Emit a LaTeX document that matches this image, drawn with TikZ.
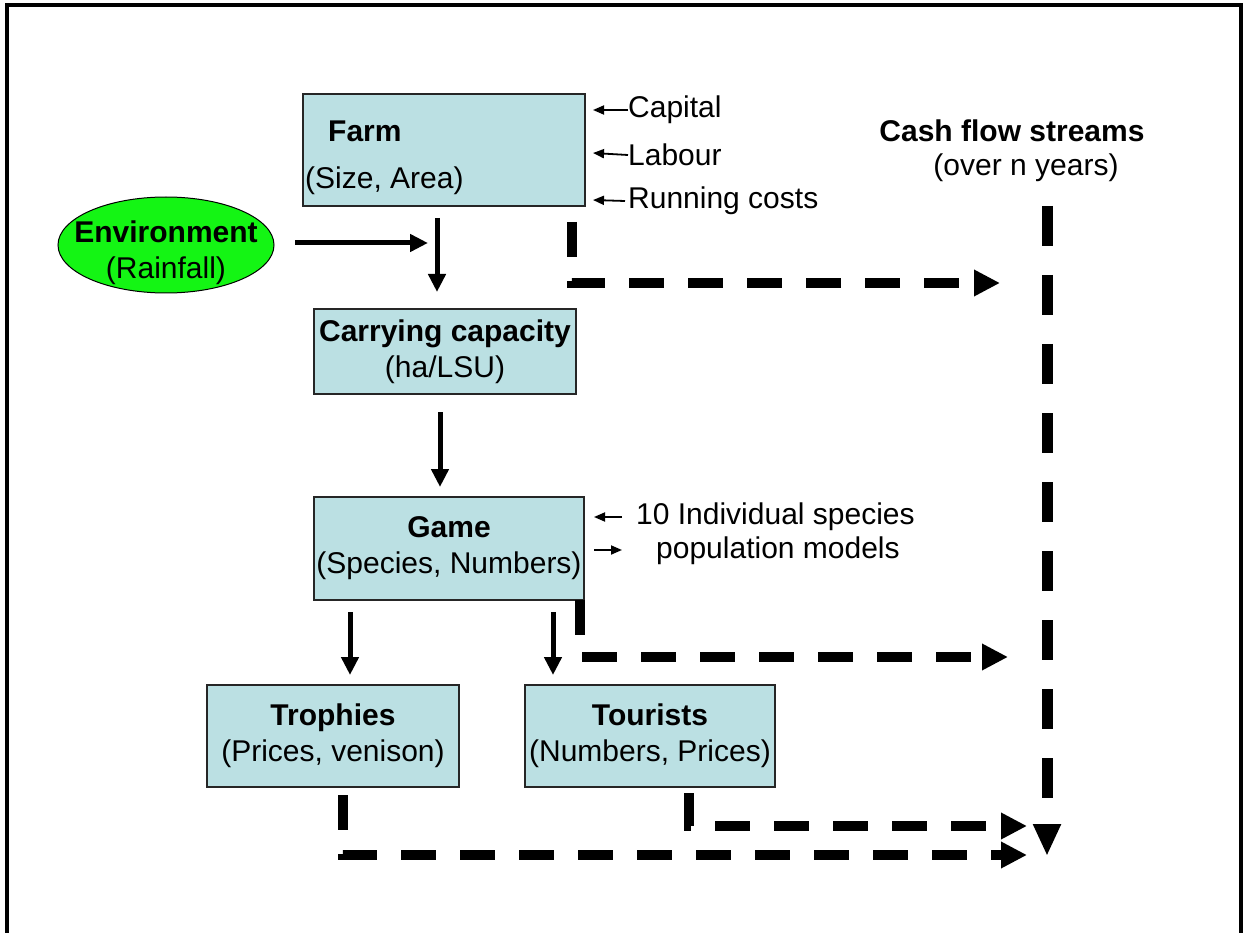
\documentclass[tikz,border=0pt]{standalone}
\usepackage{fontspec}
\setmainfont{Liberation Sans}
\usetikzlibrary{arrows.meta,shapes.geometric}
\definecolor{boxblue}{RGB}{187,224,227}
\definecolor{envgreen}{RGB}{20,245,20}
\begin{document}
\begin{tikzpicture}[x=1pt,y=-1pt,
  every node/.style={font=\fontsize{30}{36}\selectfont, inner sep=0pt},
  box/.style={draw=black!85, line width=1.5pt, fill=boxblue, align=center},
  lbl/.style={anchor=west},
  solidarr/.style={line width=5pt, -{Triangle[length=18pt,width=17pt]}},
  smallarr/.style={line width=1.8pt, -{Triangle[length=11pt,width=9pt]}},
  cashflow/.style={line width=10pt, dash pattern=on 35pt off 24pt, -{Triangle[length=26pt,width=25pt]}},
  bigflow/.style={line width=11pt, dash pattern=on 40pt off 29pt, -{Triangle[length=32pt,width=26pt]}},
]
\useasboundingbox (0,0) rectangle (1243,933);
% frame
\draw[line width=4pt] (7,940) -- (7,5) -- (1241,5) -- (1241,940);

% boxes
\node[box, minimum width=282pt, minimum height=112pt] (farm) at (444,150) {};
\node[lbl] (farmtitle) at (328,131) {\textbf{Farm}};
\node[lbl] (farmsize) at (305,181) {(Size, Area)};

\node[ellipse, draw=black, line width=1pt, fill=envgreen, minimum width=216pt, minimum height=96pt] (env) at (166,245) {};
\node[align=center] (envtext) at (166,253) {\textbf{Environment}\\(Rainfall)};

\node[box, minimum width=262pt, minimum height=85pt] (carry) at (445,351.5) {\textbf{Carrying capacity}\\(ha/LSU)};
\node[box, minimum width=270pt, minimum height=103pt] (game) at (449,548.5) {\textbf{Game}\\(Species, Numbers)};
\node[box, minimum width=252pt, minimum height=102pt] (trophies) at (333,736) {\textbf{Trophies}\\(Prices, venison)};
\node[box, minimum width=250pt, minimum height=102pt] (tourists) at (650,736) {\textbf{Tourists}\\(Numbers, Prices)};

% farm inputs
\node[lbl] (capital) at (628,110) {Capital};
\node[lbl] (labour) at (628,155) {Labour};
\node[lbl] (running) at (628,201) {Running costs};
\coordinate (capE) at (593,110);
\coordinate (labE) at (593,153);
\coordinate (runE) at (593,200);
\draw[smallarr] (capital.west) -- (capE);
\draw[smallarr] (labour.west) -- (labE);
\draw[smallarr] ([xshift=-3pt]running.west) -- (runE);

% game side
\node[lbl] (indiv) at (636,517) {10 Individual species};
\node[lbl] (popmod) at (656,551) {population models};
\coordinate (indS) at (622,517);
\coordinate (indE) at (594,517);
\coordinate (popS) at (594,550);
\coordinate (popE) at (622,550);
\draw[smallarr] (indS) -- (indE);
\draw[smallarr] (popS) -- (popE);

% cash flow title
\node (cashtitle) at (1012,131) {\textbf{Cash flow streams}};
\node (cashsub) at (1026,168) {(over n years)};

% solid arrows
\coordinate (envA) at (295,243);
\coordinate (envB) at (428,243);
\coordinate (farmD1) at (437,218);
\coordinate (farmD2) at (437,292);
\coordinate (carD1) at (440,412);
\coordinate (carD2) at (440,487);
\coordinate (gtA1) at (350,612);
\coordinate (gtA2) at (350,675);
\coordinate (gtB1) at (553,612);
\coordinate (gtB2) at (553,675);
\draw[solidarr] (envA) -- (envB);
\draw[solidarr] (farmD1) -- (farmD2);
\draw[solidarr] (carD1) -- (carD2);
\draw[solidarr] (gtA1) -- (gtA2);
\draw[solidarr] (gtB1) -- (gtB2);

% dashed cash flows
\coordinate (fc1) at (572,222);
\coordinate (fc2) at (1000,283);
\coordinate (gc1) at (580,600);
\coordinate (gc2) at (1008,657);
\coordinate (tc1) at (689,793);
\coordinate (tc2) at (1027,826);
\coordinate (pc1) at (343,795);
\coordinate (pc2) at (1027,855);
\coordinate (bc1) at (1047,206);
\coordinate (bc2) at (1047,856);
\draw[cashflow] (fc1) |- (fc2);
\draw[cashflow] (gc1) |- (gc2);
\draw[cashflow] (tc1) |- (tc2);
\draw[cashflow] (pc1) |- (pc2);
\draw[bigflow] (bc1) -- (bc2);
\end{tikzpicture}
\end{document}
